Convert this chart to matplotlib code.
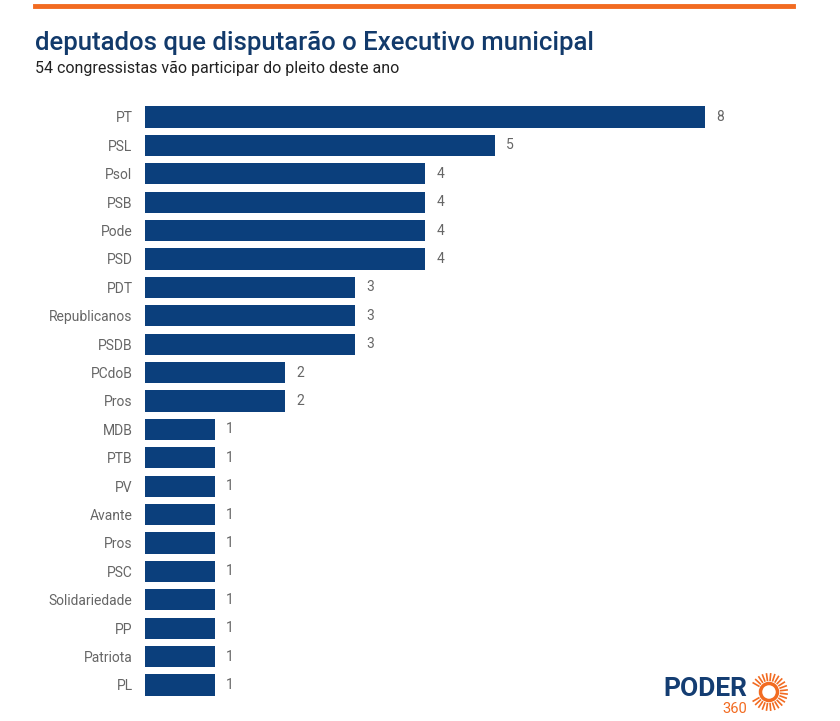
import matplotlib
matplotlib.use("Agg")
import matplotlib.pyplot as plt
import numpy as np
from matplotlib.lines import Line2D
from matplotlib.patches import Circle

parties = ["PT", "PSL", "Psol", "PSB", "Pode", "PSD", "PDT", "Republicanos", "PSDB",
           "PCdoB", "Pros", "MDB", "PTB", "PV", "Avante", "Pros", "PSC",
           "Solidariedade", "PP", "Patriota", "PL"]
values = [8, 5, 4, 4, 4, 4, 3, 3, 3, 2, 2, 1, 1, 1, 1, 1, 1, 1, 1, 1, 1]
title = "deputados que disputarão o Executivo municipal"
subtitle = "54 congressistas vão participar do pleito deste ano"

W, H = 840, 721
plt.rcParams['font.family'] = ['Roboto', 'DejaVu Sans']
fig = plt.figure(figsize=(W/100, H/100), dpi=100)

BLUE = "#0b3f7c"
ORANGE = "#f26b21"

# orange top line
fig.add_artist(Line2D([35/W, 793/W], [1-5.5/H, 1-5.5/H], color=ORANGE, lw=3.5))

fig.text(35/W, 1-43/H, title, fontsize=18.5, fontweight='medium', color="#123a6b", va='center', ha='left')
fig.text(35/W, 1-68/H, subtitle, fontsize=11.5, color="#222222", va='center', ha='left')

ax_l = 145/W
ax_w = (70*9)/W
top = 1-102.8/H
bot = 1-699.2/H
ax = fig.add_axes([ax_l, bot, ax_w, top-bot])
y = np.arange(len(parties))
ax.barh(y, values, height=0.75, color=BLUE, edgecolor='none')
ax.set_ylim(len(parties)-0.5, -0.5)
ax.set_xlim(0, 9)
ax.set_yticks(y)
ax.set_yticklabels(parties, fontsize=10, color="#666666")
ax.tick_params(axis='y', length=0, pad=9)
ax.set_xticks([])
for s in ax.spines.values():
    s.set_visible(False)
for yi, v in zip(y, values):
    ax.text(v + 0.16, yi, str(v), va='center', ha='left', fontsize=10, color="#666666")

# logo
fig.text(663/W, 1-689/H, "PODER", fontsize=19, fontweight='bold', color="#143d72", va='center', ha='left')
fig.text(747/W, 1-709/H, "360", fontsize=10.5, color=ORANGE, va='center', ha='right')
lax = fig.add_axes([0, 0, 1, 1], facecolor='none')
lax.set_xlim(0, W); lax.set_ylim(H, 0); lax.axis('off')
cx, cy = 769, 692
lax.add_patch(Circle((cx, cy), 8.5, fill=False, ec=ORANGE, lw=2.5))
for a in np.linspace(-150, 150, 24):
    t = np.deg2rad(a)
    lax.plot([cx + 11*np.cos(t), cx + 19*np.cos(t)], [cy - 11*np.sin(t), cy - 19*np.sin(t)],
             color=ORANGE, lw=1.2, solid_capstyle='butt')

fig.savefig("out.png", dpi=100, facecolor='white')
